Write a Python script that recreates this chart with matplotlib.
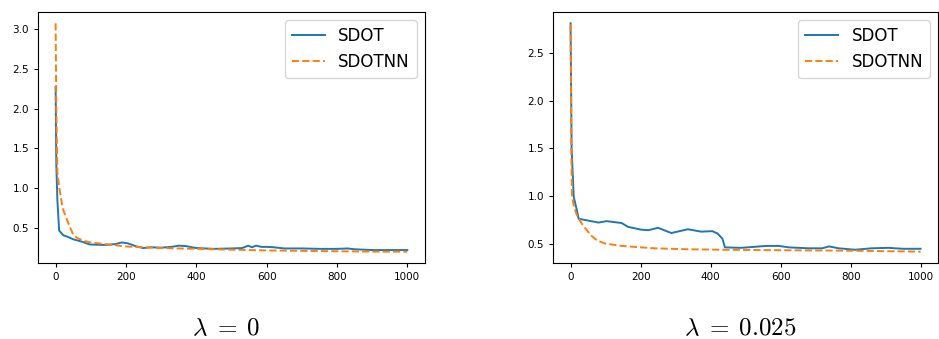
#!/usr/bin/env python3

import matplotlib
matplotlib.use("Agg")
import matplotlib.pyplot as plt

plt.rcParams['mathtext.fontset'] = 'cm'

# lambda = 0
it_sdot_0 = [0, 2, 5, 10, 22, 35, 50, 75, 97, 125, 145, 170, 188, 205, 230, 249, 270,
             300, 330, 350, 370, 400, 450, 500, 530, 548, 558, 570, 585, 600, 620, 650,
             700, 750, 800, 830, 850, 900, 950, 1000]
sdot_0 = [2.27, 1.30, 0.85, 0.47, 0.41, 0.39, 0.36, 0.33, 0.295, 0.29, 0.29, 0.30, 0.32,
          0.31, 0.27, 0.25, 0.26, 0.255, 0.265, 0.28, 0.275, 0.25, 0.24, 0.245, 0.25,
          0.28, 0.26, 0.28, 0.265, 0.265, 0.26, 0.245, 0.245, 0.24, 0.24, 0.245, 0.235,
          0.225, 0.225, 0.225]
it_nn_0 = [0, 2, 5, 10, 20, 30, 40, 50, 60, 80, 100, 150, 200, 300, 400, 500, 600, 700,
           800, 900, 1000]
sdotnn_0 = [3.07, 2.00, 1.20, 1.02, 0.75, 0.63, 0.52, 0.42, 0.38, 0.34, 0.32, 0.295,
            0.27, 0.25, 0.24, 0.23, 0.22, 0.215, 0.21, 0.205, 0.205]

# lambda = 0.025
it_sdot_1 = [0, 3, 9, 18, 23, 51, 80, 103, 146, 164, 203, 222, 250, 288, 335, 373, 405,
             420, 429, 434, 441, 486, 524, 557, 595, 624, 680, 719, 738, 766, 813, 860,
             907, 950, 1000]
sdot_1 = [2.81, 1.50, 0.99, 0.85, 0.76, 0.74, 0.72, 0.735, 0.715, 0.675, 0.645, 0.64,
          0.665, 0.61, 0.65, 0.625, 0.63, 0.605, 0.57, 0.55, 0.46, 0.455, 0.465, 0.475,
          0.475, 0.46, 0.45, 0.45, 0.47, 0.45, 0.435, 0.45, 0.455, 0.445, 0.445]
it_nn_1 = [0, 2, 4, 10, 18, 30, 42, 60, 75, 98, 146, 240, 335, 429, 600, 800, 1000]
sdotnn_1 = [2.80, 1.50, 1.00, 0.88, 0.80, 0.72, 0.66, 0.58, 0.535, 0.50, 0.475, 0.45,
            0.44, 0.435, 0.43, 0.425, 0.415]

labels = [r'$\lambda\;=\;0$', r'$\lambda\;=\;0.025$']


def main():
    fig = plt.figure(figsize=(9.39, 3.39), dpi=100)
    ax1 = fig.add_axes([0.0405, 0.224, 0.412, 0.741])
    ax2 = fig.add_axes([0.589, 0.224, 0.410, 0.741])

    data = [(it_sdot_0, sdot_0, it_nn_0, sdotnn_0),
            (it_sdot_1, sdot_1, it_nn_1, sdotnn_1)]
    for ax, (xs, ys, xn, yn), lab in zip([ax1, ax2], data, labels):
        ax.plot(xs, ys, color='#1f77b4', lw=1.4, label='SDOT')
        ax.plot(xn, yn, color='#ff7f0e', lw=1.4, ls='--', label='SDOTNN')
        ax.set_xticks([0, 200, 400, 600, 800, 1000])
        ax.tick_params(labelsize=7.5, length=3)
        ax.legend(loc='upper right', fontsize=12)
        pos = ax.get_position()
        fig.text((pos.x0 + pos.x1) / 2 - 0.006, 0.012, lab, ha='center',
                 va='baseline', fontsize=18)

    ax1.set_yticks([0.5, 1.0, 1.5, 2.0, 2.5, 3.0])
    ax2.set_yticks([0.5, 1.0, 1.5, 2.0, 2.5])

    fig.savefig('out.png', dpi=100)


if __name__ == "__main__":
    main()
